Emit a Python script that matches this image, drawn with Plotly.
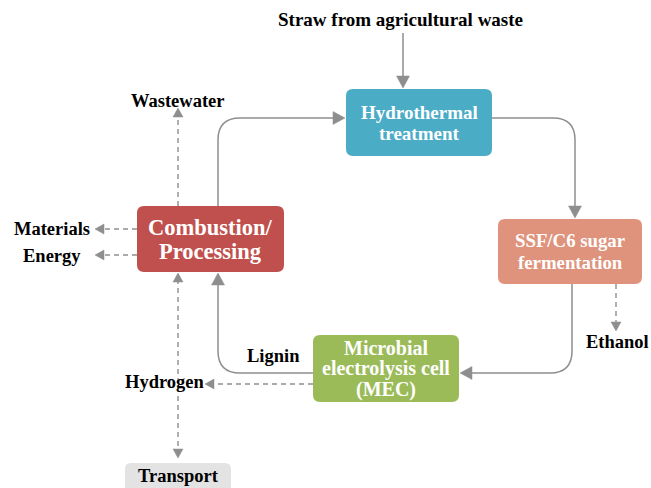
import plotly.graph_objects as go

# ---- Diagram content ----
node_labels = [["Hydrothermal", "treatment"], ["SSF/C6 sugar", "fermentation"],
               ["Microbial", "electrolysis cell", "(MEC)"], ["Combustion/", "Processing"]]
node_colors = ["#4BACC6", "#E0937C", "#9BBB59", "#C0504D"]
node_font_sizes = [19, 18.8, 20, 22.5]
node_line_gap = [21, 22, 20.5, 24]
node_boxes = [(346, 89, 492, 156), (498, 219, 642, 284),
              (313, 335, 459, 402), (137, 206, 284, 272)]

out_labels = ["Straw from agricultural waste", "Wastewater", "Materials", "Energy",
              "Ethanol", "Lignin", "Hydrogen", "Transport"]
out_pos = [(400, 19), (178, 101), (52, 229), (52, 256),
           (617, 342), (273, 356), (165, 382), (178, 476)]

transport_box = (125, 463, 231, 494)

solid_flows = [
    [(403, 33), (403, 88)],
    [(218, 206), (218, 118), (345, 118)],
    [(492, 118), (575, 118), (575, 218)],
    [(572, 284), (572, 373), (460, 373)],
    [(313, 373), (218, 373), (218, 273)],
]
dashed_flows = [  # (points, arrow_at_start, arrow_at_end)
    ([(178, 206), (178, 108)], False, True),
    ([(137, 229), (95, 229)], False, True),
    ([(137, 255), (95, 255)], False, True),
    ([(616, 284), (616, 331)], False, True),
    ([(313, 384), (205, 384)], False, True),
    ([(178, 273), (178, 458)], True, True),
]

LINE_COLOR = "#8E8E8E"
FONT = "Liberation Serif, Times New Roman, serif"


def rrect(x0, y0, x1, y1, r):
    return (f"M {x0+r},{y0} L {x1-r},{y0} Q {x1},{y0} {x1},{y0+r} "
            f"L {x1},{y1-r} Q {x1},{y1} {x1-r},{y1} L {x0+r},{y1} "
            f"Q {x0},{y1} {x0},{y1-r} L {x0},{y0+r} Q {x0},{y0} {x0+r},{y0} Z")


def unit(a, b):
    dx, dy = b[0] - a[0], b[1] - a[1]
    n = (dx * dx + dy * dy) ** 0.5
    return dx / n, dy / n


def poly_path(pts, r, trim_start=0, trim_end=0):
    pts = [list(p) for p in pts]
    ux, uy = unit(pts[0], pts[1])
    pts[0][0] += ux * trim_start
    pts[0][1] += uy * trim_start
    ux, uy = unit(pts[-2], pts[-1])
    pts[-1][0] -= ux * trim_end
    pts[-1][1] -= uy * trim_end
    d = f"M {pts[0][0]},{pts[0][1]}"
    for i in range(1, len(pts) - 1):
        p, c, n = pts[i - 1], pts[i], pts[i + 1]
        u1 = unit(p, c)
        u2 = unit(c, n)
        a = (c[0] - u1[0] * r, c[1] - u1[1] * r)
        b = (c[0] + u2[0] * r, c[1] + u2[1] * r)
        d += f" L {a[0]},{a[1]} Q {c[0]},{c[1]} {b[0]},{b[1]}"
    d += f" L {pts[-1][0]},{pts[-1][1]}"
    return d


def arrowhead(tip, frm, length, half):
    ux, uy = unit(frm, tip)
    bx, by = tip[0] - ux * length, tip[1] - uy * length
    px, py = -uy, ux
    return (f"M {tip[0]},{tip[1]} L {bx+px*half},{by+py*half} "
            f"L {bx-px*half},{by-py*half} Z")


shapes = []
annotations = []

# solid connectors
for pts in solid_flows:
    shapes.append(dict(type="path", path=poly_path(pts, 22, 0, 8),
                       line=dict(color=LINE_COLOR, width=1.5)))
    shapes.append(dict(type="path", path=arrowhead(pts[-1], pts[-2], 12, 6.5),
                       fillcolor=LINE_COLOR, line=dict(color=LINE_COLOR, width=0.5)))

# dashed connectors
for pts, a0, a1 in dashed_flows:
    shapes.append(dict(type="path",
                       path=poly_path(pts, 0, 6 if a0 else 0, 6 if a1 else 0),
                       line=dict(color=LINE_COLOR, width=1.4, dash="5px,4px")))
    if a1:
        shapes.append(dict(type="path", path=arrowhead(pts[-1], pts[-2], 9, 5),
                           fillcolor=LINE_COLOR, line=dict(color=LINE_COLOR, width=0.5)))
    if a0:
        shapes.append(dict(type="path", path=arrowhead(pts[0], pts[1], 9, 5),
                           fillcolor=LINE_COLOR, line=dict(color=LINE_COLOR, width=0.5)))

# boxes
for (x0, y0, x1, y1), col, lines, fs, gap in zip(node_boxes, node_colors, node_labels,
                                                 node_font_sizes, node_line_gap):
    shapes.append(dict(type="path", path=rrect(x0, y0, x1, y1, 7),
                       fillcolor=col, line=dict(width=0)))
    cy = (y0 + y1) / 2
    n = len(lines)
    for i, ln in enumerate(lines):
        annotations.append(dict(x=(x0 + x1) / 2, y=cy + (i - (n - 1) / 2) * gap,
                                text=f"<b>{ln}</b>", showarrow=False, xref="x", yref="y",
                                font=dict(family=FONT, size=fs, color="white")))

tx0, ty0, tx1, ty1 = transport_box
shapes.append(dict(type="path", path=rrect(tx0, ty0, tx1, ty1, 6),
                   fillcolor="#E3E3E3", line=dict(width=0)))

for i, (lab, (x, y)) in enumerate(zip(out_labels, out_pos)):
    annotations.append(dict(x=x, y=y, text=f"<b>{lab}</b>", showarrow=False,
                            xref="x", yref="y",
                            font=dict(family=FONT, size=19 if i == 0 else 18.5,
                                      color="black")))

W, H = 651, 488
fig = go.Figure()
fig.update_layout(
    width=W, height=H,
    margin=dict(l=0, r=0, t=0, b=0, pad=0),
    paper_bgcolor="white", plot_bgcolor="white",
    xaxis=dict(range=[0, W], visible=False, fixedrange=True),
    yaxis=dict(range=[H, 0], visible=False, fixedrange=True),
    shapes=shapes, annotations=annotations, showlegend=False,
    hovermode=False,
)
fig.write_html("out.html",
               config={"displayModeBar": False, "staticPlot": True},
               post_script="document.body.style.margin='0';"
                           "document.body.style.overflow='hidden';")
